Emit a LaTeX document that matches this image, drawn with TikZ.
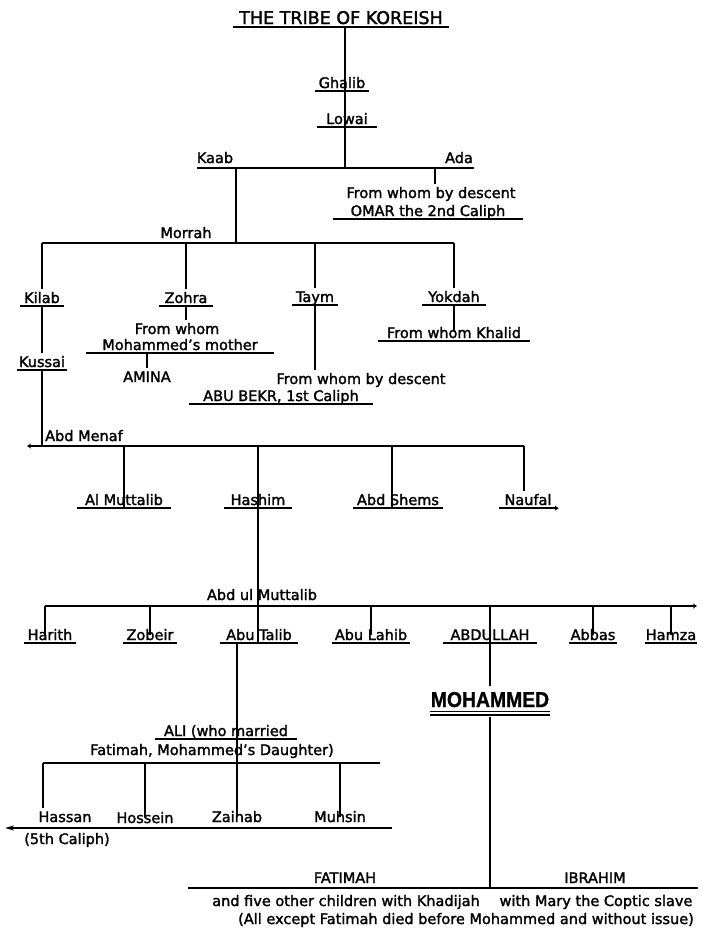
\documentclass[tikz,border=0pt]{standalone}
\usepackage{fontspec}
\setmainfont[FakeBold = 1.8]{DejaVu Sans}
\newfontfamily\heavyfont[FakeStretch = 0.9, FakeBold = 1]{Liberation Sans}
\usetikzlibrary{arrows.meta}
\tikzset {
    tree line/.style = {line width = 2pt},
    under line/.style = {line width = 1.5pt},
    double under/.style = {double, double distance = 2.4pt, line width = 1.3pt},
    person/.style = {
        font = \fontsize{14.5}{16}\selectfont,
        anchor = base, text depth = 0pt,
        inner xsep = 5pt, inner ysep = 3pt
    },
    big person/.style = {person, font = \fontsize{17.5}{20}\selectfont},
    prophet/.style = {
        person, font = \heavyfont\bfseries\fontsize{21.5}{24}\selectfont,
        inner xsep = 0.5pt, inner ysep = 6pt
    },
    %
    left tip/.style = {arrows = {Stealth[length = #1, width = 5pt]-}},
    right tip/.style = {arrows = {-Stealth[length = #1, width = 5pt]}}
}

\begin{document}
\begin{tikzpicture}[x = 1pt, y = -1pt]
    \useasboundingbox (0, 0) rectangle (703, 935);
    % upper line
    \node (title) [big person, inner xsep = 6pt] at (341, 24) {THE TRIBE OF KOREISH};
    \node (ghalib) [person, inner xsep = 3.5pt] at (342, 88) {Ghalib};
    \node (lowai) [person, inner xsep = 9pt] at (347, 124) {Lowai};
    \node (kaab) [person] at (215, 163) {Kaab};
    \node (ada) [person] at (459, 163) {Ada};
    \node (adadesc) [person] at (431, 198) {From whom by descent};
    \node (omar) [person, inner xsep = 17.5pt] at (428, 216) {OMAR the 2nd Caliph};
    \node (morrah) [person] at (186, 238) {Morrah};
    \node (kilab) [person, inner xsep = 3.5pt] at (42, 303) {Kilab};
    \node (zohra) [person] at (186, 303) {Zohra};
    \node (taym) [person, inner xsep = 3.7pt] at (315, 302) {Taym};
    \node (yokdah) [person, inner xsep = 6pt] at (454, 302) {Yokdah};
    \node (zohradesc) [person] at (177, 334) {From whom};
    \node (mmother) [person, inner xsep = 16pt] at (180, 350) {Mohammed's mother};
    \node (amina) [person] at (147, 382) {AMINA};
    \node (khalid) [person, inner xsep = 9pt] at (454, 338) {From whom Khalid};
    \node (taymdesc) [person] at (361, 384) {From whom by descent};
    \node (bekr) [person, inner xsep = 14pt] at (281, 401) {ABU BEKR, 1st Caliph};
    \node (kussai) [person, inner xsep = 2pt] at (42, 367) {Kussai};
    \node (menaf) [person, anchor = base west, inner xsep = 2pt] at (43, 441) {Abd Menaf};
    \node (almut) [person, inner xsep = 7.6pt] at (124, 505) {Al Muttalib};
    \node (hashim) [person, inner xsep = 6pt] at (258, 505) {Hashim};
    \node (shems) [person, inner xsep = 4pt] at (398, 505) {Abd Shems};
    \node (naufal) [person] at (528, 505) {Naufal};
    \node (abdul) [person] at (262, 600) {Abd ul Muttalib};
    \node (harith) [person, inner xsep = 3.7pt] at (50, 640) {Harith};
    \node (zobeir) [person, inner xsep = 3.5pt] at (150, 640) {Zobeir};
    \node (abutalib) [person, inner xsep = 6pt] at (259, 640) {Abu Talib};
    \node (abulahib) [person, inner xsep = 2.5pt] at (371, 640) {Abu Lahib};
    \node (abdullah) [person, inner xsep = 7pt] at (490, 640) {ABDULLAH};
    \node (abbas) [person, inner xsep = 1pt] at (593, 640) {Abbas};
    \node (hamza) [person, inner xsep = 1pt] at (671, 640) {Hamza};
    \node (mohammed) [prophet] at (490, 707) {MOHAMMED};
    \node (ali) [person, inner xsep = 9pt] at (226, 736) {ALI (who married};
    \node (alidesc) [person] at (212, 755) {Fatimah, Mohammed's Daughter)};
    \node (hassan) [person] at (65, 822) {Hassan};
    \node (hossein) [person] at (145, 823) {Hossein};
    \node (zainab) [person] at (237, 822) {Zainab};
    \node (muhsin) [person] at (340, 822) {Muhsin};
    \node (fifth) [person] at (67, 844) {(5th Caliph)};
    \node (fatimah) [person] at (345, 883) {FATIMAH};
    \node (ibrahim) [person] at (595, 883) {IBRAHIM};
    \node (khadijah) [person] at (346, 906) {and five other children with Khadijah};
    \node (mary) [person] at (596, 906) {with Mary the Coptic slave};
    \node (issue) [person] at (466, 924) {(All except Fatimah died before Mohammed and without issue)};
    % bars
    \coordinate (kaabL) at (197, 168);
    \coordinate (adaR) at (474, 168);
    \coordinate (root) at (345, 168);
    \coordinate (kaabJ) at (236, 168);
    \coordinate (adaJ) at (435, 168);
    \coordinate (morrahL) at (42, 243);
    \coordinate (morrahR) at (454, 243);
    \coordinate (menafL) at (27, 446);
    \coordinate (menafR) at (524, 446);
    \coordinate (mutL) at (45, 606);
    \coordinate (mutR) at (697, 606);
    \coordinate (aliJ) at (237, 763);
    \coordinate (famL) at (43, 763);
    \coordinate (famR) at (380, 763);
    \coordinate (hasL) at (5, 828);
    \coordinate (hasR) at (392, 828);
    \coordinate (fatL) at (188, 888);
    \coordinate (fatR) at (698, 888);
    \foreach \n in {title, ghalib, lowai, omar, kilab, zohra, taym, yokdah, mmother,
        khalid, bekr, kussai, almut, hashim, shems, harith, zobeir, abutalib,
        abulahib, abdullah, abbas, hamza, ali}
        \draw [under line] (\n.south west) -- (\n.south east);
    \draw [under line, right tip = 4pt] (naufal.south west) -- ([xshift = 2pt]naufal.south east);
    \draw [double under] (mohammed.south west) -- (mohammed.south east);
    % lines of descent
    \draw [tree line] (title.south -| root) -- (root);
    \draw [tree line] (kaabL) -- (adaR);
    \draw [tree line] (kaabJ) -- (kaabJ |- morrahL);
    \draw [tree line] (adaJ) -- (adaJ |- adadesc.north);
    \draw [tree line] (morrahL) -- (morrahR);
    \draw [tree line] (morrahL) -- (kilab.north);
    \draw [tree line] (kilab.south) -- (kussai.north);
    \draw [tree line] (kussai.south) -- (kussai.south |- menafL);
    \draw [tree line] (zohra.north) -- (zohra.north |- morrahL);
    \draw [tree line] (zohra.south) -- (zohra.south |- zohradesc.north);
    \draw [tree line] (amina.north) -- (amina.north |- mmother.south);
    \draw [tree line] (taym.north) -- (taym.north |- morrahL);
    \draw [tree line] (taym.south) -- (taym.south |- taymdesc.north);
    \draw [tree line] (morrahR) -- (yokdah.north);
    \draw [tree line] (yokdah.south) -- (yokdah.south |- khalid.center);
    \draw [tree line, left tip = 4pt] (menafL) -- (menafR);
    \draw [tree line] (almut.south) -- (almut.south |- menafL);
    \draw [tree line] (hashim.south |- menafL) -- (hashim.south |- abutalib.south);
    \draw [tree line] ([xshift = -6pt]shems.south) -- ([xshift = -6pt]shems.south |- menafL);
    \draw [tree line] (menafR) -- (menafR |- naufal.north);
    \draw [tree line, right tip = 4pt] (mutL) -- (mutR);
    \draw [tree line] (mutL) -- (mutL |- harith.center);
    \foreach \n in {zobeir, abulahib, abbas, hamza}
        \draw [tree line] (\n.center) -- (\n.center |- mutL);
    \draw [tree line] (abdullah.south |- mutL) -- (abdullah.south |- mohammed.north);
    \draw [tree line] ([yshift = -4pt]mohammed.south) -- (mohammed.south |- fatL);
    \draw [tree line] (fatL) -- (fatR);
    \draw [tree line] (aliJ |- abutalib.south) -- (zainab.center);
    \draw [tree line] (famL) -- (famR);
    \draw [tree line] (famL) -- (famL |- hassan.north);
    \foreach \n in {hossein, muhsin}
        \draw [tree line] (\n.center) -- (\n.center |- famL);
    \draw [tree line, left tip = 9pt] (hasL) -- (hasR);
\end{tikzpicture}
\end{document}
